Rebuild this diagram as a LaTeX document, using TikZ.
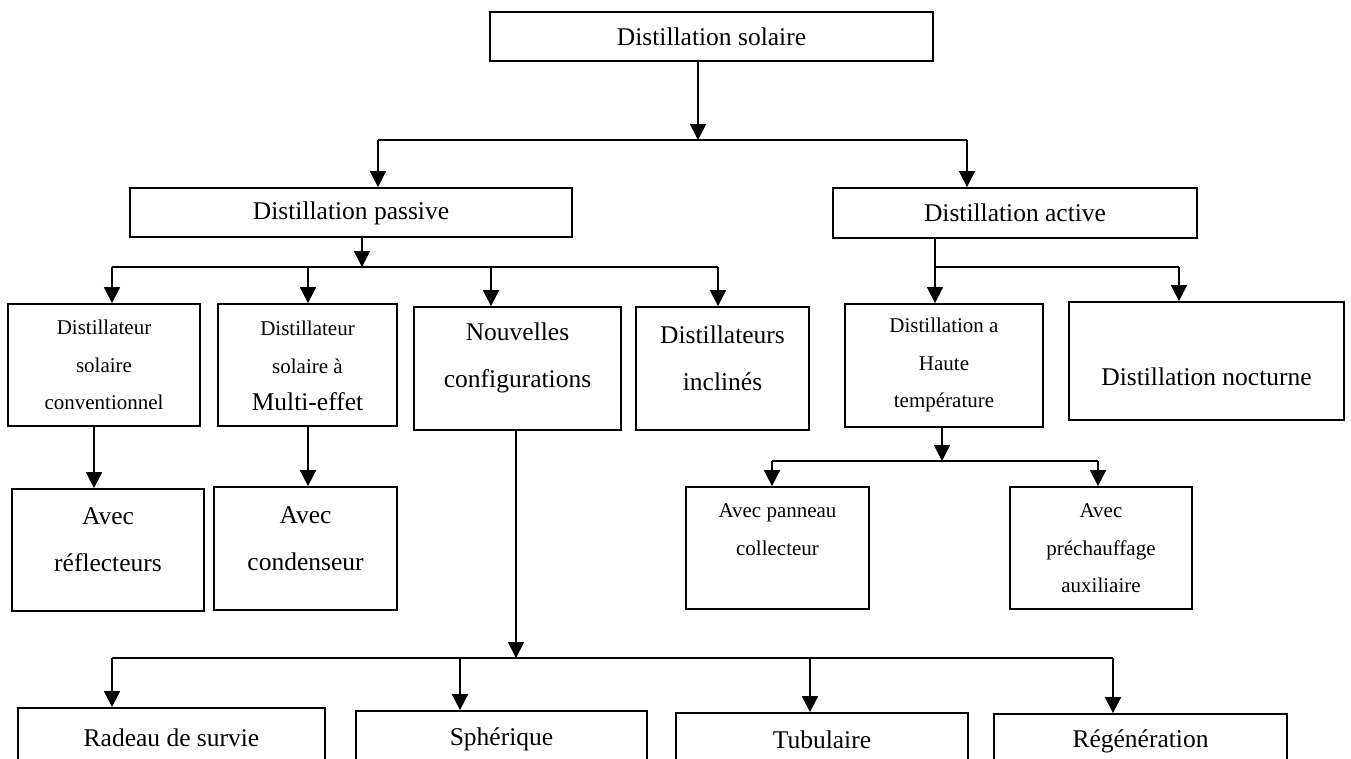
\documentclass[tikz,border=0pt]{standalone}
\usepackage{fontspec}
\setmainfont{Liberation Serif}
\usetikzlibrary{arrows.meta}
\tikzset{
  box/.style={draw=black, line width=1.8pt, fill=white, inner sep=0pt},
  bigtxt/.style={font=\fontsize{25.5}{47}\selectfont, align=center, inner sep=0pt},
  smalltxt/.style={font=\fontsize{21}{37.5}\selectfont, align=center, inner sep=0pt},
  ln/.style={draw=black, line width=1.5pt},
  arr/.style={draw=black, line width=1.7pt, -{Triangle[length=16pt,width=16pt]}}
}
\begin{document}
\begin{tikzpicture}[x=1pt,y=-1pt]
\useasboundingbox (0,0) rectangle (1351,758);
\clip (0,0) rectangle (1351,758);
\fill[white] (0,0) rectangle (1351,758);

% boxes
\node[box, minimum width=443pt, minimum height=49pt] (top) at (711.5,36.5) {};
\node[box, minimum width=442pt, minimum height=49pt] (passive) at (351,212.5) {};
\node[box, minimum width=364pt, minimum height=50pt] (active) at (1015,213) {};
\node[box, minimum width=192pt, minimum height=122pt] (conv) at (104,365) {};
\node[box, minimum width=179pt, minimum height=122pt] (multi) at (307.5,365) {};
\node[box, minimum width=207pt, minimum height=123pt] (nouv) at (517.5,368.5) {};
\node[box, minimum width=173pt, minimum height=123pt] (incl) at (722.5,368.5) {};
\node[box, minimum width=198pt, minimum height=123pt] (haute) at (944,365.5) {};
\node[box, minimum width=275pt, minimum height=118pt] (noct) at (1206.5,361) {};
\node[box, minimum width=192pt, minimum height=122pt] (refl) at (108,550) {};
\node[box, minimum width=183pt, minimum height=123pt] (cond) at (305.5,548.5) {};
\node[box, minimum width=183pt, minimum height=122pt] (pann) at (777.5,548) {};
\node[box, minimum width=182pt, minimum height=122pt] (prech) at (1101,548) {};
\node[box, minimum width=307pt, minimum height=82pt] (radeau) at (171.5,749) {};
\node[box, minimum width=291pt, minimum height=79pt] (spher) at (501.5,750.5) {};
\node[box, minimum width=292pt, minimum height=77pt] (tubu) at (822,751.5) {};
\node[box, minimum width=293pt, minimum height=76pt] (regen) at (1140.5,752) {};

% texts
\node[bigtxt] (top-t) at (711.5,37) {Distillation solaire};
\node[bigtxt] (passive-t) at (351,213) {Distillation passive};
\node[bigtxt] (active-t) at (1015,213) {Distillation active};
\node[smalltxt] (conv-t) at (104,365) {Distillateur\\solaire\\conventionnel};
\node[smalltxt] (multi-t) at (307.5,366) {Distillateur\\solaire à\\\fontsize{25.5}{37.5}\selectfont Multi-effet};
\node[bigtxt] (nouv-t) at (517.5,358) {Nouvelles\\configurations};
\node[bigtxt] (incl-t) at (722.5,358) {Distillateurs\\inclinés};
\node[smalltxt] (haute-t) at (944,365) {Distillation a\\Haute\\température};
\node[bigtxt] (noct-t) at (1206.5,377) {Distillation nocturne};
\node[bigtxt] (refl-t) at (108,540) {Avec\\réflecteurs};
\node[bigtxt] (cond-t) at (305.5,538.5) {Avec\\condenseur};
\node[smalltxt] (pann-t) at (777.5,529.5) {Avec panneau\\collecteur};
\node[smalltxt] (prech-t) at (1101,548.5) {Avec\\préchauffage\\auxiliaire};
\node[bigtxt] (radeau-t) at (171.5,738) {Radeau de survie};
\node[bigtxt] (spher-t) at (501.5,739) {Sphérique};
\node[bigtxt] (tubu-t) at (822,740) {Tubulaire};
\node[bigtxt] (regen-t) at (1140.5,741) {Régénération};

% bus coordinates
\coordinate (b1) at (698,140);
\coordinate (b1a) at (378,140);
\coordinate (b1b) at (967,140);
\coordinate (b2) at (362,267);
\coordinate (b2a) at (112,267);
\coordinate (b2b) at (308,267);
\coordinate (b2c) at (491,267);
\coordinate (b2d) at (718,267);
\coordinate (b3a) at (935,267);
\coordinate (b3b) at (1179,267);
\coordinate (c4) at (94,460);
\coordinate (c5) at (308,460);
\coordinate (b4) at (942,461);
\coordinate (b4a) at (772,461);
\coordinate (b4b) at (1098,461);
\coordinate (b5) at (516,658);
\coordinate (b5a) at (112,658);
\coordinate (b5b) at (460,658);
\coordinate (b5c) at (810,658);
\coordinate (b5d) at (1113,658);

% level 1
\draw[arr] (b1 |- top.south) -- (b1);
\draw[ln] (b1a) -- (b1b);
\draw[arr] (b1a) -- (b1a |- passive.north);
\draw[arr] (b1b) -- (b1b |- active.north);

% passive branch
\draw[arr] (b2 |- passive.south) -- (b2);
\draw[ln] (b2a) -- (b2d);
\draw[arr] (b2a) -- (b2a |- conv.north);
\draw[arr] (b2b) -- (b2b |- multi.north);
\draw[arr] (b2c) -- (b2c |- nouv.north);
\draw[arr] (b2d) -- (b2d |- incl.north);

% active branch
\draw[arr] (b3a |- active.south) -- (b3a |- haute.north);
\draw[ln] (b3a) -- (b3b);
\draw[arr] (b3b) -- (b3b |- noct.north);

% under conv / multi
\draw[arr] (c4 |- conv.south) -- (c4 |- refl.north);
\draw[arr] (c5 |- multi.south) -- (c5 |- cond.north);

% haute temperature
\draw[arr] (b4 |- haute.south) -- (b4);
\draw[ln] (b4a) -- (b4b);
\draw[arr] (b4a) -- (b4a |- pann.north);
\draw[arr] (b4b) -- (b4b |- prech.north);

% nouvelles configurations
\draw[arr] (b5 |- nouv.south) -- (b5);
\draw[ln] (b5a) -- (b5d);
\draw[arr] (b5a) -- (b5a |- radeau.north);
\draw[arr] (b5b) -- (b5b |- spher.north);
\draw[arr] (b5c) -- (b5c |- tubu.north);
\draw[arr] (b5d) -- (b5d |- regen.north);
\end{tikzpicture}
\end{document}
